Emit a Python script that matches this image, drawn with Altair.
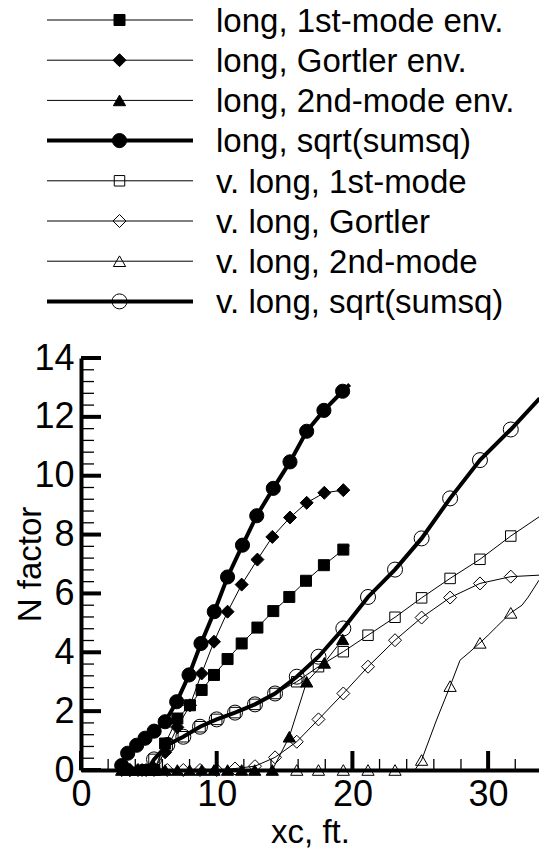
import altair as alt
import pandas as pd

# ---------------- data ----------------
LABELS = [
    "long, 1st-mode env.",
    "long, Gortler env.",
    "long, 2nd-mode env.",
    "long, sqrt(sumsq)",
    "v. long, 1st-mode",
    "v. long, Gortler",
    "v. long, 2nd-mode",
    "v. long, sqrt(sumsq)",
]

# long: 1st-mode envelope (filled squares)
L1_X = [4.8, 5.4, 6.2, 7.1, 8.03, 8.89, 9.8, 10.8, 11.84, 13.0, 14.17, 15.35, 16.58, 17.9, 19.33]
L1_Y = [0.0, 0.0, 0.9, 1.75, 2.2, 2.72, 3.23, 3.77, 4.3, 4.84, 5.4, 5.88, 6.43, 6.96, 7.49]
L1_LX = [19.8]
L1_LY = [7.62]

# long: Gortler envelope (filled diamonds)
LG_X = [3.0, 3.6, 4.2, 4.8, 5.4, 6.2, 7.1, 8.03, 8.89, 9.8, 10.8, 11.84, 13.0, 14.1, 15.4, 16.63, 17.93, 19.33]
LG_Y = [0.0, 0.0, 0.0, 0.0, 0.05, 0.6, 1.45, 2.2, 3.28, 4.36, 5.38, 6.3, 7.15, 7.92, 8.58, 9.08, 9.42, 9.51]
LG_LX = []
LG_LY = []

# long: 2nd-mode envelope (filled triangles)
L2_X = [3.0, 3.6, 4.2, 4.8, 5.4, 6.2, 7.1, 8.0, 8.9, 9.8, 10.8, 11.84, 12.8, 14.1, 15.35, 16.63, 17.93, 19.28]
L2_Y = [0.0, 0.0, 0.0, 0.0, 0.0, 0.0, 0.0, 0.0, 0.0, 0.0, 0.0, 0.0, 0.0, 0.0, 1.13, 3.0, 3.64, 4.44]
L2_LX = []
L2_LY = []

# long: sqrt(sumsq) (filled circles, thick)
LS_X = [3.0, 3.44, 4.1, 4.72, 5.39, 6.2, 7.05, 7.96, 8.84, 9.82, 10.8, 11.9, 12.95, 14.17, 15.4, 16.63, 17.9, 19.28]
LS_Y = [0.15, 0.57, 0.84, 1.08, 1.32, 1.64, 2.32, 3.23, 4.3, 5.38, 6.56, 7.64, 8.64, 9.57, 10.47, 11.51, 12.22, 12.87]
LS_LX = [19.8]
LS_LY = [13.1]

# v. long: 1st-mode (open squares)
V1_X = [5.38, 6.36, 7.54, 8.77, 10.0, 11.35, 12.82, 14.3, 15.9, 17.5, 19.33, 21.15, 23.14, 25.1, 27.2, 29.4, 31.67]
V1_Y = [0.36, 0.85, 1.13, 1.47, 1.72, 1.95, 2.23, 2.6, 3.0, 3.51, 4.02, 4.58, 5.19, 5.85, 6.51, 7.16, 7.95]
V1_LX = [4.9, 33.75]
V1_LY = [0.0, 8.6]

# v. long: Gortler (open diamonds)
VG_X = [3.6, 4.5, 5.38, 6.36, 7.54, 8.77, 10.0, 11.35, 12.82, 14.3, 15.9, 17.5, 19.33, 21.15, 23.14, 25.1, 27.2, 29.4, 31.67]
VG_Y = [0.0, 0.0, 0.0, 0.0, 0.0, 0.0, 0.0, 0.05, 0.13, 0.43, 0.96, 1.72, 2.6, 3.51, 4.41, 5.18, 5.86, 6.34, 6.57]
VG_LX = [33.75]
VG_LY = [6.62]

# v. long: 2nd-mode (open triangles)
V2_X = [15.9, 17.5, 19.33, 21.15, 23.14, 25.1, 27.2, 29.4, 31.67]
V2_Y = [0.0, 0.0, 0.0, 0.0, 0.0, 0.34, 2.85, 4.32, 5.34]
V2_LX = [24.6, 26.2, 27.93, 28.67, 30.0, 30.63, 32.5, 32.96, 33.75]
V2_LY = [0.0, 1.7, 3.73, 4.02, 4.58, 4.87, 5.6, 5.88, 6.45]

# v. long: sqrt(sumsq) (open circles, thick)
VS_X = [5.38, 6.36, 7.54, 8.77, 10.0, 11.35, 12.82, 14.3, 15.9, 17.5, 19.33, 21.15, 23.14, 25.1, 27.2, 29.4, 31.67]
VS_Y = [0.36, 0.85, 1.13, 1.47, 1.72, 1.95, 2.23, 2.6, 3.17, 3.85, 4.81, 5.88, 6.81, 7.87, 9.23, 10.53, 11.57]
VS_LX = [4.9, 33.8]
VS_LY = [0.0, 12.63]

MARK_X = [L1_X, LG_X, L2_X, LS_X, V1_X, VG_X, V2_X, VS_X]
MARK_Y = [L1_Y, LG_Y, L2_Y, LS_Y, V1_Y, VG_Y, V2_Y, VS_Y]
LINE_X = [L1_LX, LG_LX, L2_LX, LS_LX, V1_LX, VG_LX, V2_LX, VS_LX]
LINE_Y = [L1_LY, LG_LY, L2_LY, LS_LY, V1_LY, VG_LY, V2_LY, VS_LY]

X_MAJOR = [0, 10, 20, 30]
X_MINOR = [2, 4, 6, 8, 12, 14, 16, 18, 22, 24, 26, 28, 32]
Y_MAJOR = [0, 2, 4, 6, 8, 10, 12, 14]
Y_MINOR = [round(0.4 * k, 1) for k in range(1, 35) if k % 5 != 0]

# ---------------- styles ----------------
SHAPES = ["square", "diamond", "triangle-up", "circle", "square", "diamond", "triangle-up", "circle"]
FILLS = ["black"] * 4 + ["transparent"] * 4
SIZES = [121, 169, 150, 200, 110, 169, 150, 225]
WIDTHS = [1, 1, 1, 4, 1, 1, 1, 4]

W, H = 458, 412
FONT = "Liberation Sans"

line_rows, pt_rows = [], []
for i, lab in enumerate(LABELS):
    for x, y in zip(MARK_X[i] + LINE_X[i], MARK_Y[i] + LINE_Y[i]):
        line_rows.append({"series": lab, "x": x, "y": y, "sw": WIDTHS[i]})
    for x, y in zip(MARK_X[i], MARK_Y[i]):
        pt_rows.append({"series": lab, "x": x, "y": y, "shape": SHAPES[i],
                        "fill": FILLS[i], "size": SIZES[i]})
line_df = pd.DataFrame(line_rows)
pt_df = pd.DataFrame(pt_rows)

leg_df = pd.DataFrame({
    "label": LABELS,
    "ly": [-338 + 40.2 * i for i in range(len(LABELS))],
    "shape": SHAPES, "fill": FILLS, "size": SIZES, "sw": WIDTHS,
})
leg_df["ty"] = leg_df["ly"] + 11.8

xs = alt.Scale(domain=[0, 33.75], nice=False, zero=False)
ys = alt.Scale(domain=[0, 14], nice=False, zero=False)

xaxis = alt.Axis(values=X_MAJOR, ticks=False, grid=False, domainWidth=4, domainColor="black",
                 labelFontSize=36, labelFont=FONT, labelColor="black", labelPadding=35,
                 labelBaseline="alphabetic", labelFlush=False, labelOverlap=False,
                 title="xc, ft.", titleFontSize=33, titleFont=FONT, titleFontWeight="normal",
                 titleColor="black", titleBaseline="alphabetic", titleY=72, titleX=229,
                 titleAlign="center", zindex=1)
yaxis = alt.Axis(values=Y_MAJOR, ticks=False, grid=False, domainWidth=4, domainColor="black",
                 labelFontSize=36, labelFont=FONT, labelColor="black", labelPadding=7,
                 labelOverlap=False, labelFlush=False,
                 title="N factor", titleFontSize=33, titleFont=FONT, titleFontWeight="normal",
                 titleColor="black", titleBaseline="alphabetic", titleX=-41, titleY=206,
                 titleAngle=-90, titleAlign="center", zindex=1)

X = lambda f: alt.X(f, scale=xs, axis=xaxis, title="xc, ft.")
Y = lambda f: alt.Y(f, scale=ys, axis=yaxis, title="N factor")

lines = alt.Chart(line_df).mark_line(color="black", clip=True).encode(
    x=X("x:Q"), y=Y("y:Q"),
    detail="series:N",
    strokeWidth=alt.StrokeWidth("sw:Q", scale=None),
)

points = alt.Chart(pt_df).mark_point(filled=True, stroke="black", strokeWidth=1, opacity=1).encode(
    x=X("x:Q"), y=Y("y:Q"),
    shape=alt.Shape("shape:N", scale=None),
    fill=alt.Fill("fill:N", scale=None),
    size=alt.Size("size:Q", scale=None),
)

ytm = alt.Chart(pd.DataFrame({"v": Y_MAJOR})).mark_rule(color="black", strokeWidth=4).encode(
    y=Y("v:Q"), x=alt.value(0), x2=alt.value(20))
ytn = alt.Chart(pd.DataFrame({"v": Y_MINOR})).mark_rule(color="black", strokeWidth=1.3).encode(
    y=Y("v:Q"), x=alt.value(0), x2=alt.value(13))
xtm = alt.Chart(pd.DataFrame({"v": X_MAJOR})).mark_rule(color="black", strokeWidth=4).encode(
    x=X("v:Q"), y=alt.value(H), y2=alt.value(H - 19))
xtn = alt.Chart(pd.DataFrame({"v": X_MINOR})).mark_rule(color="black", strokeWidth=1.3).encode(
    x=X("v:Q"), y=alt.value(H), y2=alt.value(H - 11))

leg_lines = alt.Chart(leg_df).mark_rule(color="black").encode(
    y=alt.Y("ly:Q", scale=None), x=alt.value(-34), x2=alt.value(112),
    strokeWidth=alt.StrokeWidth("sw:Q", scale=None))
leg_pts = alt.Chart(leg_df).mark_point(filled=True, stroke="black", strokeWidth=1, opacity=1).encode(
    y=alt.Y("ly:Q", scale=None), x=alt.value(38.5),
    shape=alt.Shape("shape:N", scale=None),
    fill=alt.Fill("fill:N", scale=None),
    size=alt.Size("size:Q", scale=None))
leg_txt = alt.Chart(leg_df).mark_text(align="left", baseline="alphabetic", fontSize=33,
                                      font=FONT, color="black").encode(
    y=alt.Y("ty:Q", scale=None), x=alt.value(135), text="label:N")

chart = alt.layer(lines, points, ytm, ytn, xtm, xtn, leg_lines, leg_pts, leg_txt).properties(
    width=W, height=H,
    padding={"left": 81, "top": 358, "right": 0, "bottom": 78},
    autosize=alt.AutoSizeParams(type="none"),
    background="white",
).configure(font=FONT).configure_view(strokeWidth=0, stroke="transparent")

chart.save("out.html", embed_options={"renderer": "svg", "actions": False})
